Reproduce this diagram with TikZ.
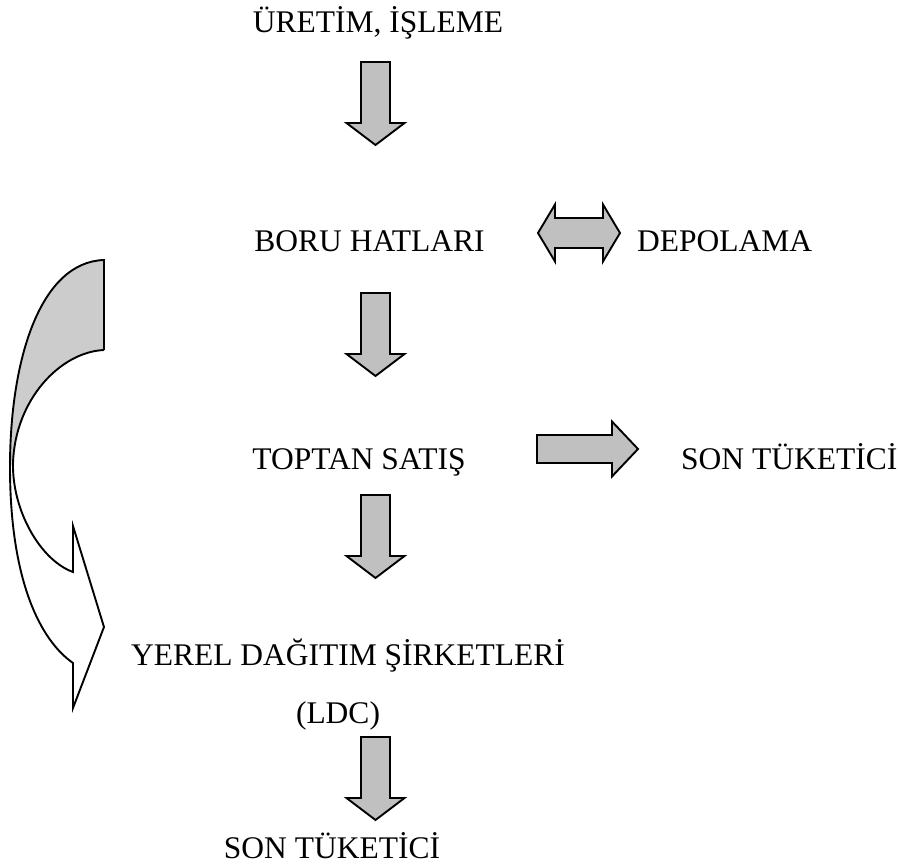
\documentclass[tikz,border=0pt]{standalone}
\usepackage{fontspec}
\setmainfont{Liberation Serif}
\definecolor{arrowgray}{RGB}{192,192,192}
\definecolor{curvegray}{RGB}{204,204,204}
\begin{document}
\begin{tikzpicture}[x=1pt,y=-1pt,
  lbl/.style={inner sep=0pt, font=\fontsize{31.5}{36}\selectfont},
  blockarrow/.style={draw=black, line width=1.9pt, fill=arrowgray, line join=miter},
  outline/.style={draw=black, line width=1.9pt, line join=miter},
  downarr/.pic={\path[blockarrow] (-14.5,0) -- (14.5,0) -- (14.5,61) -- (29,61) -- (0,83) -- (-29,61) -- (-14.5,61) -- cycle;}
]
\useasboundingbox (0,0) rectangle (898,866);

% texts
\node[lbl, anchor=base] (uretim) at (378,33) {ÜRETİM, İŞLEME};
\node[lbl, anchor=base] (boru) at (369.5,252) {BORU HATLARI};
\node[lbl, anchor=base west] (depo) at (637,252) {DEPOLAMA};
\node[lbl, anchor=base] (toptan) at (359,470) {TOPTAN SATIŞ};
\node[lbl, anchor=base west] (son1) at (681,470) {SON TÜKETİCİ};
\node[lbl, anchor=base] (yerel) at (348,666) {YEREL DAĞITIM ŞİRKETLERİ};
\node[lbl, anchor=base] (ldc) at (338,724) {(LDC)};
\node[lbl, anchor=base] (son2) at (332,858) {SON TÜKETİCİ};

% down block arrows
\pic (a1) at (375.5,62) {downarr};
\pic (a2) at (375.5,293) {downarr};
\pic (a3) at (375.5,495) {downarr};
\pic (a4) at (375.5,737) {downarr};

% double arrow
\path[blockarrow] (538,233) -- (555,204.5) -- (555,218) -- (603,218) -- (603,204.5) -- (620,233)
  -- (603,261.5) -- (603,248) -- (555,248) -- (555,261.5) -- cycle;

% right arrow
\path[blockarrow] (537,435) -- (612,435) -- (612,421.5) -- (638,449) -- (612,476.5) -- (612,463) -- (537,463) -- cycle;

% curved arrow
\path[fill=curvegray] (104,260) .. controls (40,262) and (10,360) .. (10,467) -- (13,463)
  .. controls (15,400) and (60,352) .. (104,350) -- cycle;
\path[outline] (104,350) -- (104,260) .. controls (40,262) and (10,360) .. (10,467)
  .. controls (10,580) and (40,640) .. (73,663) -- (73,708) -- (104,627) -- (73,526) -- (73,572)
  .. controls (40,560) and (12,510) .. (13,463) .. controls (15,400) and (60,352) .. (104,350);
\end{tikzpicture}
\end{document}
